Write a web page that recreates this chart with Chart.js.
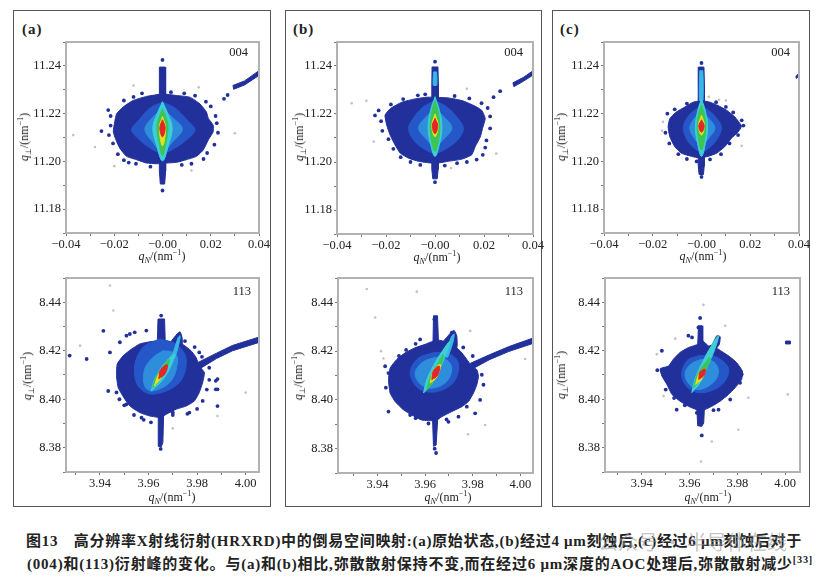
<!DOCTYPE html>
<html><head><meta charset="utf-8">
<script src="https://cdn.jsdelivr.net/npm/chart.js@4.4.1/dist/chart.umd.min.js"></script>
<style>
html,body{margin:0;padding:0;background:#fff;}
body{width:828px;height:578px;position:relative;overflow:hidden;font-family:"Liberation Serif",serif;}
.box{position:absolute;border:1px solid #555;box-sizing:border-box;}
.plab{position:absolute;font-weight:bold;font-size:15px;font-family:"Liberation Serif",serif;letter-spacing:1px;color:#222;line-height:16px;}
.refl{position:absolute;font-size:12.5px;font-family:"Liberation Serif",serif;color:#222;line-height:14px;transform:translateX(-100%);}
.ytit,.xtit{position:absolute;font-size:12px;font-family:"Liberation Serif",serif;color:#222;white-space:nowrap;line-height:14px;}
.ytit{transform:translate(-50%,-50%) rotate(-90deg);}
.xtit{transform:translate(-50%,-50%);}
sub,sup{font-size:68%;line-height:0;}
canvas{position:absolute;}
.cap{position:absolute;font-family:"Liberation Serif","Noto Sans CJK SC",sans-serif;font-weight:700;font-size:15px;color:#222;white-space:nowrap;line-height:20px;}
.wm{position:absolute;left:598px;top:530px;font-family:"Noto Sans CJK SC",sans-serif;font-size:20px;color:rgba(150,150,150,0.55);white-space:nowrap;line-height:24px;}
</style>
</head><body>
<script>
// ---------------- tick values and labels ----------------
const xTicks004 = [-0.04,-0.03,-0.02,-0.01,0,0.01,0.02,0.03,0.04];
const xLabels004 = ['−0.04','','−0.02','','−0.00','','0.02','','0.04'];
const yTicks004 = [11.17,11.18,11.19,11.20,11.21,11.22,11.23,11.24,11.25];
const yLabels004 = ['','11.18','','11.20','','11.22','','11.24',''];
const xTicks113 = [3.93,3.94,3.95,3.96,3.97,3.98,3.99,4.00];
const xLabels113 = ['','3.94','','3.96','','3.98','','4.00'];
const yTicks113 = [8.37,8.38,8.39,8.40,8.41,8.42,8.43,8.44,8.45];
const yLabels113 = ['','8.38','','8.40','','8.42','','8.44',''];

const xRange004 = [-0.04, 0.04];
const yRange004 = [11.17, 11.25];
const xRange113a = [3.926, 4.0055];
const xRange113b = [3.9234, 4.0053];
const xRange113c = [3.9246, 4.0062];
const yRange113 = [8.37, 8.45];

// ---------------- (a) 004 ----------------
const a004Body = [[0,11.2283],[0.0058,11.2276],[0.0113,11.2269],[0.0155,11.2241],[0.0182,11.2207],[0.019,11.218],[0.021,11.2152],[0.021,11.2124],[0.019,11.209],[0.0169,11.2048],[0.0141,11.2021],[0.0099,11.2007],[0.0058,11.1996],[0.0017,11.1993],[-0.0025,11.199],[-0.0066,11.1993],[-0.0108,11.2007],[-0.0149,11.2021],[-0.0177,11.2055],[-0.0193,11.209],[-0.0204,11.2124],[-0.0198,11.2166],[-0.019,11.22],[-0.0163,11.2228],[-0.0122,11.2255],[-0.0066,11.2272],[0,11.2283]];
const a004Streak = [[-0.0012,11.2395],[0.0011,11.2395],[0.0013,11.232],[0.0013,11.196],[0.0009,11.1905],[-0.0009,11.1905],[-0.0013,11.196],[-0.0014,11.232],[-0.0012,11.2395]];
const a004Diag = [[0.0292,11.2318],[0.034,11.2337],[0.040,11.2380],[0.040,11.2360],[0.034,11.2320],[0.0295,11.2302],[0.0292,11.2318]];
const a004L2 = [[0,11.2248],[0.005,11.2225],[0.0105,11.2170],[0.0135,11.2132],[0.0105,11.2095],[0.005,11.2055],[0,11.2035],[-0.005,11.2055],[-0.0100,11.2095],[-0.0128,11.2132],[-0.0100,11.2170],[-0.005,11.2225],[0,11.2248]];
const a004L3 = [[0,11.2218],[0.004,11.2185],[0.0082,11.2135],[0.004,11.2080],[0,11.2040],[-0.004,11.2080],[-0.0073,11.2135],[-0.004,11.2185],[0,11.2218]];
const a004L4 = [[0,11.2250],[0.0022,11.2200],[0.0040,11.2140],[0.0025,11.2070],[0,11.2002],[-0.0025,11.2070],[-0.0040,11.2140],[-0.0022,11.2200],[0,11.2250]];
const a004L5 = [[0,11.2220],[0.0016,11.2180],[0.0023,11.2140],[0.0015,11.2080],[0,11.2025],[-0.0015,11.2080],[-0.0023,11.2140],[-0.0016,11.2180],[0,11.2220]];
const a004L6 = [[0,11.2188],[0.0013,11.2140],[0,11.2065],[-0.0013,11.2140],[0,11.2188]];
const a004L7 = [[0,11.2174],[0.0011,11.2140],[0,11.2103],[-0.0011,11.2140],[0,11.2174]];
const a004Dots = [[-0.0253,11.2127],[-0.0225,11.2215],[-0.0215,11.2190],[-0.0160,11.2255],[-0.0120,11.2270],[-0.0085,11.2285],[0.0035,11.2290],[0.0090,11.2285],[0.0135,11.2275],[0.0180,11.2250],[0.0200,11.2230],[0.0225,11.2160],[0.0230,11.2120],[0.0215,11.2070],[0.0185,11.2035],[0.0170,11.2010],[0.0080,11.1985],[-0.0050,11.1978],[-0.0110,11.1990],[-0.0160,11.2005],[-0.0185,11.2030],[-0.0205,11.2075],[-0.0222,11.2110],[0,11.1878],[0,11.2425],[0.0255,11.2262],[0.0270,11.2278],[-0.0215,11.2150],[0.0220,11.2190],[-0.0140,11.1995],[0.0120,11.1990]];
const a004Gray = [[-0.0370,11.2110],[0.0300,11.2118],[-0.0120,11.2318],[0.0120,11.1962],[-0.0200,11.1980],[-0.0280,11.2060],[0.0150,11.2310]];

// ---------------- (b) 004 ----------------
const b004Body = [[0,11.227],[0.0055,11.2267],[0.011,11.2256],[0.0157,11.2236],[0.0191,11.2215],[0.0205,11.2181],[0.0194,11.214],[0.0185,11.2105],[0.0164,11.2064],[0.015,11.203],[0.011,11.2012],[0.0055,11.2003],[0.0014,11.1996],[-0.002,11.1996],[-0.0067,11.2003],[-0.0108,11.2016],[-0.0142,11.2037],[-0.0163,11.2071],[-0.0183,11.2112],[-0.0197,11.2153],[-0.0204,11.2195],[-0.0183,11.2222],[-0.0136,11.2249],[-0.0081,11.2263],[-0.0033,11.227],[0,11.227]];
const b004Streak = [[-0.0012,11.2396],[0.0012,11.2396],[0.0014,11.232],[0.0013,11.197],[0.0009,11.1930],[-0.0009,11.1930],[-0.0013,11.197],[-0.0013,11.232],[-0.0012,11.2396]];
const b004Core = [[-0.0006,11.2375],[0.0006,11.2375],[0.0007,11.2320],[-0.0007,11.2320],[-0.0006,11.2375]];
const b004Diag = [[0.0318,11.2330],[0.0360,11.2352],[0.0400,11.2380],[0.0400,11.2362],[0.0360,11.2336],[0.0322,11.2314],[0.0318,11.2330]];
const b004L2 = [[0,11.2256],[0.005,11.2228],[0.0095,11.2180],[0.0116,11.2140],[0.0095,11.2095],[0.005,11.2058],[0,11.2037],[-0.005,11.2058],[-0.009,11.2095],[-0.0108,11.2140],[-0.009,11.2180],[-0.005,11.2228],[0,11.2256]];
const b004L3 = [[0,11.2224],[0.0035,11.2190],[0.0069,11.2142],[0.0035,11.2095],[0,11.2064],[-0.0035,11.2095],[-0.0067,11.2142],[-0.0035,11.2190],[0,11.2224]];
const b004L4 = [[0,11.2272],[0.0018,11.2215],[0.0028,11.2145],[0.0018,11.2075],[0,11.2023],[-0.0018,11.2075],[-0.0028,11.2145],[-0.0018,11.2215],[0,11.2272]];
const b004L5 = [[0,11.2256],[0.0014,11.2205],[0.0020,11.2145],[0.0014,11.2085],[0,11.2044],[-0.0014,11.2085],[-0.0020,11.2145],[-0.0014,11.2205],[0,11.2256]];
const b004L6 = [[0,11.2200],[0.0013,11.2150],[0,11.2105],[-0.0013,11.2150],[0,11.2200]];
const b004L7 = [[0,11.2182],[0.0011,11.2150],[0,11.2118],[-0.0011,11.2150],[0,11.2182]];
const b004Dots = [[-0.0245,11.2194],[-0.0230,11.2215],[-0.0220,11.2170],[-0.0190,11.2095],[-0.0170,11.2055],[-0.0140,11.2020],[-0.0100,11.2000],[-0.0060,11.1988],[0.0040,11.1985],[0.0090,11.1995],[0.0130,11.2000],[0.0170,11.2010],[0.0195,11.2030],[0.0210,11.2090],[0.0225,11.2140],[0.0225,11.2190],[0.0215,11.2225],[0.0190,11.2245],[0.0140,11.2265],[0.0080,11.2275],[-0.0070,11.2278],[-0.0130,11.2262],[-0.0180,11.2240],[0,11.2418],[0,11.1916],[0.0239,11.2270],[0.0266,11.2295],[-0.0215,11.2130],[0.0205,11.2060],[-0.0040,11.2282]];
const b004Gray = [[-0.0280,11.2255],[-0.0340,11.2245],[0.0130,11.2305],[0.0065,11.1975],[0.0250,11.2035],[-0.0250,11.2085]];

// ---------------- (c) 004 ----------------
const c004Body = [[0,11.2255],[0.0034,11.2248],[0.0068,11.2234],[0.0103,11.2214],[0.0137,11.2186],[0.0164,11.2148],[0.0151,11.2124],[0.0123,11.2097],[0.0096,11.2062],[0.0062,11.2034],[0.0027,11.2021],[-0.0007,11.2014],[-0.0041,11.2021],[-0.0082,11.2034],[-0.011,11.2062],[-0.013,11.2103],[-0.0137,11.2145],[-0.013,11.2179],[-0.0103,11.2207],[-0.0068,11.2228],[-0.0034,11.2248],[0,11.2255]];
const c004Streak = [[-0.0013,11.2395],[0.0010,11.2395],[0.0012,11.232],[0.0011,11.198],[0.0008,11.1945],[-0.0010,11.1945],[-0.0013,11.198],[-0.0014,11.232],[-0.0013,11.2395]];
const c004Core = [[-0.0007,11.2380],[0.0005,11.2380],[0.0006,11.2255],[-0.0008,11.2255],[-0.0007,11.2380]];
const c004Diag = [[0.0388,11.2358],[0.0400,11.2368],[0.0400,11.2356],[0.0390,11.2348],[0.0388,11.2358]];
const c004L2 = [[0,11.2232],[0.004,11.2205],[0.0070,11.2170],[0.0082,11.2140],[0.0065,11.2095],[0.0035,11.2060],[0,11.2041],[-0.0035,11.2060],[-0.0062,11.2095],[-0.0075,11.2140],[-0.0065,11.2172],[-0.004,11.2205],[0,11.2232]];
const c004L3 = [[0,11.2208],[0.003,11.2180],[0.0055,11.2140],[0.003,11.2098],[0,11.2069],[-0.003,11.2098],[-0.0048,11.2140],[-0.003,11.2180],[0,11.2208]];
const c004L4 = [[0,11.2262],[0.0016,11.2210],[0.0025,11.2145],[0.0016,11.2075],[0,11.2021],[-0.0016,11.2075],[-0.0025,11.2145],[-0.0016,11.2210],[0,11.2262]];
const c004L5 = [[0,11.2236],[0.0013,11.2195],[0.0018,11.2145],[0.0012,11.2090],[0,11.2048],[-0.0012,11.2090],[-0.0018,11.2145],[-0.0013,11.2195],[0,11.2236]];
const c004L6 = [[0,11.2194],[0.0012,11.2150],[0,11.2110],[-0.0012,11.2150],[0,11.2194]];
const c004L7 = [[0,11.2174],[0.0011,11.2148],[0,11.2122],[-0.0011,11.2148],[0,11.2174]];
const c004Dots = [[-0.0140,11.2200],[-0.0148,11.2120],[-0.0132,11.2075],[-0.0095,11.2030],[-0.0060,11.2010],[-0.0020,11.2000],[0.0035,11.2008],[0.0080,11.2030],[0.0115,11.2075],[0.0150,11.2110],[0.0172,11.2150],[0.0165,11.2172],[0.0130,11.2205],[0.0100,11.2228],[0.0060,11.2248],[-0.0060,11.2242],[-0.0110,11.2218],[0,11.2412],[0,11.1935]];
const c004Gray = [[-0.0158,11.2166],[-0.0162,11.2128],[0.0100,11.2255],[0.0072,11.2258],[0.0165,11.2065],[0.0030,11.2270]];

// ---------------- (a) 113 ----------------
const a113Body = [[3.9635,8.4241],[3.9669,8.4241],[3.9700,8.4235],[3.9738,8.4228],[3.9775,8.4200],[3.9796,8.4172],[3.9809,8.4138],[3.9830,8.4110],[3.9823,8.4069],[3.9809,8.4028],[3.9789,8.3993],[3.9755,8.3972],[3.9714,8.3959],[3.9673,8.3938],[3.9650,8.3925],[3.9605,8.3931],[3.9564,8.3945],[3.9523,8.3972],[3.9498,8.4007],[3.9475,8.4048],[3.9468,8.4097],[3.9471,8.4145],[3.9495,8.4179],[3.9530,8.4207],[3.9564,8.4228],[3.9605,8.4237],[3.9635,8.4241]];
const a113SpikeUp = [[3.9639,8.4331],[3.9666,8.4331],[3.9669,8.4230],[3.9636,8.4230],[3.9639,8.4331]];
const a113SpikeDown = [[3.9640,8.3930],[3.9662,8.3930],[3.9659,8.3821],[3.9652,8.3803],[3.9639,8.3807],[3.9640,8.3930]];
const a113Lobe = [[3.9690,8.4235],[3.9718,8.4270],[3.9730,8.4278],[3.9738,8.4255],[3.9738,8.4225],[3.9700,8.4215],[3.9690,8.4235]];
const a113Diag = [[3.9800,8.4150],[3.9880,8.4190],[3.9946,8.4222],[4.0060,8.4258],[4.0060,8.4236],[3.9946,8.4200],[3.9880,8.4168],[3.9810,8.4125],[3.9800,8.4150]];
const a113L2 = [[3.9645,8.4248],[3.9714,8.4227],[3.9755,8.4165],[3.9727,8.4069],[3.9618,8.4021],[3.9557,8.4055],[3.9543,8.4138],[3.9577,8.4214],[3.9645,8.4248]];
const a113L3 = [[3.9659,8.4200],[3.9700,8.4193],[3.9720,8.4165],[3.9693,8.4076],[3.9618,8.4034],[3.9584,8.4055],[3.9584,8.4124],[3.9618,8.4172],[3.9659,8.4200]];
const a113Core = [[3.9695,8.4170],[3.9722,8.4255],[3.9730,8.4262],[3.9728,8.4240],[3.9708,8.4170],[3.9695,8.4170]];
const a113L4 = [[3.9611,8.4034],[3.9645,8.4065],[3.9673,8.4101],[3.9694,8.4141],[3.9707,8.4186],[3.9672,8.4155],[3.9645,8.4119],[3.9624,8.4079],[3.9611,8.4034]];
const a113L5 = [[3.9618,8.4048],[3.9641,8.4072],[3.9662,8.4102],[3.9679,8.4135],[3.9686,8.4165],[3.9666,8.4143],[3.9643,8.4112],[3.9626,8.4080],[3.9618,8.4048]];
const a113L6 = [[3.9624,8.4055],[3.9652,8.4090],[3.9668,8.4135],[3.9640,8.4100],[3.9624,8.4055]];
const a113L7 = [[3.9642,8.4085],[3.9668,8.4105],[3.9677,8.4142],[3.9650,8.4122],[3.9642,8.4085]];
const a113Dots = [[3.9414,8.4282],[3.9345,8.4166],[3.9275,8.4180],[3.9509,8.4262],[3.9543,8.4276],[3.9591,8.4283],[3.9468,8.4028],[3.9480,8.4000],[3.9500,8.3975],[3.9540,8.3935],[3.9580,8.3915],[3.9610,8.3905],[3.9700,8.3935],[3.9760,8.3940],[3.9800,8.3960],[3.9840,8.4040],[3.9850,8.4080],[3.9850,8.4130],[3.9820,8.4175],[3.9790,8.4215],[3.9750,8.4240],[3.9652,8.4345],[3.9650,8.3795],[3.9877,8.4076],[3.9877,8.4041],[3.9884,8.3972],[3.9441,8.4193],[3.9434,8.4034],[3.9509,8.3979],[3.9571,8.3924],[3.9809,8.4193],[3.9884,8.4083],[3.9884,8.4041],[3.9823,8.3993],[3.9768,8.3945],[3.9700,8.3945],[3.9523,8.4269],[3.9482,8.4235]];
const a113Gray = [[3.9441,8.4469],[3.9455,8.4366],[3.9318,8.4221],[4.0000,8.4028],[3.9884,8.3931],[3.9700,8.3880]];

// ---------------- (b) 113 ----------------
const b113Body = [[3.9633,8.4241],[3.9656,8.4245],[3.9677,8.4241],[3.9705,8.4228],[3.9733,8.4214],[3.9754,8.4193],[3.9775,8.4166],[3.9796,8.4138],[3.9817,8.4124],[3.9824,8.4097],[3.9817,8.4062],[3.9803,8.4028],[3.9782,8.3993],[3.9754,8.3972],[3.9712,8.3952],[3.9670,8.3931],[3.9645,8.3915],[3.9586,8.3917],[3.9544,8.3938],[3.9509,8.3959],[3.9474,8.3993],[3.9453,8.4028],[3.9446,8.4083],[3.9453,8.4131],[3.9481,8.4166],[3.9516,8.4193],[3.9558,8.4214],[3.9600,8.4228],[3.9633,8.4241]];
const b113SpikeUp = [[3.9635,8.4345],[3.9652,8.4345],[3.9656,8.4235],[3.9633,8.4235],[3.9635,8.4345]];
const b113SpikeDown = [[3.9631,8.3925],[3.9653,8.3925],[3.9646,8.3814],[3.9635,8.3810],[3.9631,8.3925]];
const b113Lobe = [[3.9677,8.4241],[3.9712,8.4280],[3.9722,8.4285],[3.9733,8.4262],[3.9733,8.4214],[3.9700,8.4215],[3.9677,8.4241]];
const b113Diag = [[3.9790,8.4150],[3.9870,8.4185],[3.9950,8.4218],[4.0060,8.4256],[4.0060,8.4234],[3.9950,8.4198],[3.9870,8.4165],[3.9800,8.4128],[3.9790,8.4150]];
const b113L2 = [[3.9640,8.4195],[3.9700,8.4190],[3.9740,8.4150],[3.9722,8.4075],[3.9650,8.4034],[3.9575,8.4045],[3.9537,8.4110],[3.9570,8.4170],[3.9640,8.4195]];
const b113L3 = [[3.9645,8.4175],[3.9690,8.4165],[3.9712,8.4130],[3.9690,8.4075],[3.9630,8.4048],[3.9580,8.4065],[3.9558,8.4110],[3.9590,8.4155],[3.9645,8.4175]];
const b113Core = [[3.9680,8.4180],[3.9712,8.4262],[3.9722,8.4270],[3.9718,8.4240],[3.9694,8.4175],[3.9680,8.4180]];
const b113L4 = [[3.9593,8.4028],[3.9630,8.4068],[3.9662,8.4128],[3.9688,8.4190],[3.9705,8.4241],[3.9672,8.4200],[3.9636,8.4142],[3.9608,8.4085],[3.9593,8.4028]];
const b113L5 = [[3.9607,8.4041],[3.9638,8.4080],[3.9660,8.4125],[3.9677,8.4186],[3.9648,8.4140],[3.9622,8.4095],[3.9607,8.4041]];
const b113L6 = [[3.9621,8.4069],[3.9650,8.4095],[3.9664,8.4146],[3.9635,8.4120],[3.9621,8.4069]];
const b113L7 = [[3.9628,8.4083],[3.9652,8.4100],[3.9660,8.4138],[3.9636,8.4122],[3.9628,8.4083]];
const b113Dots = [[3.9579,8.4248],[3.9432,8.4138],[3.9446,8.4110],[3.9446,8.3952],[3.9485,8.3993],[3.9537,8.3938],[3.9560,8.3925],[3.9614,8.3903],[3.9698,8.3910],[3.9740,8.3931],[3.9775,8.3972],[3.9810,8.3945],[3.9831,8.4000],[3.9845,8.4062],[3.9838,8.4103],[3.9712,8.4276],[3.9639,8.4331],[3.9646,8.3782],[3.9640,8.3800],[3.9560,8.4230],[3.9520,8.4205],[3.9490,8.4180],[3.9435,8.4050],[3.9800,8.4180],[3.9760,8.4215],[3.9690,8.3920]];
const b113Gray = [[3.9355,8.4455],[3.9390,8.4338],[3.9565,8.4444],[4.0020,8.4168],[3.9852,8.3897],[3.9780,8.3859],[3.9789,8.4283],[3.9415,8.4200],[3.9425,8.4170]];

// ---------------- (c) 113 ----------------
const c113Body = [[3.9637,8.4227],[3.9654,8.4241],[3.9679,8.4220],[3.9700,8.4225],[3.9721,8.4206],[3.9763,8.4179],[3.9797,8.4151],[3.9821,8.4116],[3.9818,8.4082],[3.9790,8.4047],[3.9763,8.4020],[3.9728,8.3992],[3.9693,8.3971],[3.9662,8.3957],[3.9630,8.3957],[3.9595,8.3971],[3.9560,8.3992],[3.9526,8.4020],[3.9505,8.4061],[3.9484,8.4096],[3.9477,8.4126],[3.9512,8.4137],[3.9532,8.4165],[3.9560,8.4193],[3.9595,8.4213],[3.9637,8.4227]];
const c113SpikeUp = [[3.9637,8.4303],[3.9652,8.4303],[3.9655,8.4225],[3.9634,8.4225],[3.9637,8.4303]];
const c113SpikeDown = [[3.9630,8.3965],[3.9662,8.3965],[3.9659,8.3902],[3.9651,8.3888],[3.9634,8.3891],[3.9630,8.3965]];
const c113Lobe = [[3.9690,8.4215],[3.9714,8.4262],[3.9728,8.4258],[3.9724,8.4225],[3.9705,8.4205],[3.9690,8.4215]];
const c113Dash = [[4.0002,8.4228],[4.0022,8.4228],[4.0022,8.4240],[4.0002,8.4240],[4.0002,8.4228]];
const c113L2 = [[3.9640,8.4180],[3.9710,8.4175],[3.9763,8.4125],[3.9735,8.4060],[3.9655,8.4027],[3.9595,8.4045],[3.9567,8.4100],[3.9590,8.4160],[3.9640,8.4180]];
const c113L3 = [[3.9650,8.4165],[3.9700,8.4155],[3.9721,8.4115],[3.9700,8.4070],[3.9640,8.4040],[3.9600,8.4060],[3.9581,8.4105],[3.9605,8.4145],[3.9650,8.4165]];
const c113L4 = [[3.9609,8.4027],[3.9645,8.4070],[3.9677,8.4140],[3.9705,8.4205],[3.9721,8.4262],[3.9688,8.4215],[3.9655,8.4155],[3.9625,8.4090],[3.9609,8.4027]];
const c113L5 = [[3.9616,8.4047],[3.9648,8.4085],[3.9672,8.4130],[3.9686,8.4172],[3.9658,8.4140],[3.9632,8.4100],[3.9616,8.4047]];
const c113L6 = [[3.9625,8.4061],[3.9652,8.4085],[3.9666,8.4124],[3.9640,8.4105],[3.9625,8.4061]];
const c113L7 = [[3.9638,8.4082],[3.9660,8.4098],[3.9666,8.4124],[3.9644,8.4112],[3.9638,8.4082]];
const c113Dots = [[3.9637,8.4296],[3.9595,8.4262],[3.9484,8.4200],[3.9546,8.3957],[3.9580,8.3975],[3.9630,8.3944],[3.9644,8.3916],[3.9651,8.3851],[3.9721,8.3957],[3.9770,8.3999],[3.9811,8.4068],[3.9818,8.4103],[3.9777,8.4137],[3.9749,8.4179],[3.9644,8.4335],[3.9465,8.4120],[3.9610,8.4255],[3.9500,8.4040],[3.9535,8.4005],[3.9700,8.3955]];
const c113Gray = [[3.9463,8.4186],[3.9491,8.4013],[3.9658,8.4389],[3.9749,8.4303],[3.9846,8.4006],[3.9804,8.3874],[3.9693,8.3826],[3.9648,8.3743],[4.0011,8.4020],[3.9540,8.4250]];

// ---------------- styles ----------------
const STY = {
  gray:  {type:'dots',  color:'#c2c2c2', r:1.3},
  dots:  {type:'dots',  color:'#22309c', r:1.9},
  body:  {type:'shape', color:'#22309c', t:0.15},
  streak:{type:'shape', color:'#22309c', t:0},
  L2:    {type:'shape', color:'#2557c8', t:0.35},
  L3:    {type:'shape', color:'#2f8edc', t:0.35},
  core:  {type:'shape', color:'#38b6e6', t:0.2},
  L4:    {type:'shape', color:'#3ccfd8', t:0.4},
  L5:    {type:'shape', color:'#3cc454', t:0.4},
  L6:    {type:'shape', color:'#e4e022', t:0.4},
  L7:    {type:'shape', color:'#e2262a', t:0.4}
};

const TITLE_Y = '<i>q</i><sub>⊥</sub>/(nm<sup>−1</sup>)';
const TITLE_X = '<i>q</i><sub><i>N</i></sub>/(nm<sup>−1</sup>)';

const plots = [
 {rect:[66,42,193,191], xr:xRange004, yr:yRange004, xt:xTicks004, xl:xLabels004, yt:yTicks004, yl:yLabels004,
  ref:['004',248,52], yT:[24,137], xT:[162,256],
  layers:[[a004Gray,'gray'],[a004Diag,'streak'],[a004Body,'body'],[a004Streak,'streak'],[a004Dots,'dots'],[a004L2,'L2'],[a004L3,'L3'],[a004L4,'L4'],[a004L5,'L5'],[a004L6,'L6'],[a004L7,'L7']]},
 {rect:[66,278,193,194], xr:xRange113a, yr:yRange113, xt:xTicks113, xl:xLabels113, yt:yTicks113, yl:yLabels113,
  ref:['113',251,291], yT:[27,376], xT:[172,497],
  layers:[[a113Gray,'gray'],[a113Diag,'streak'],[a113Body,'body'],[a113Lobe,'body'],[a113SpikeUp,'streak'],[a113SpikeDown,'streak'],[a113Dots,'dots'],[a113L2,'L2'],[a113L3,'L3'],[a113Core,'core'],[a113L4,'L4'],[a113L5,'L5'],[a113L6,'L6'],[a113L7,'L7']]},
 {rect:[337,42,196,192], xr:xRange004, yr:yRange004, xt:xTicks004, xl:xLabels004, yt:yTicks004, yl:yLabels004,
  ref:['004',523,52], yT:[299,137], xT:[437,257],
  layers:[[b004Gray,'gray'],[b004Diag,'streak'],[b004Body,'body'],[b004Streak,'streak'],[b004Dots,'dots'],[b004L2,'L2'],[b004L3,'L3'],[b004Core,'core'],[b004L4,'L4'],[b004L5,'L5'],[b004L6,'L6'],[b004L7,'L7']]},
 {rect:[338,278,195,195], xr:xRange113b, yr:yRange113, xt:xTicks113, xl:xLabels113, yt:yTicks113, yl:yLabels113,
  ref:['113',523,291], yT:[298,376], xT:[448,497],
  layers:[[b113Gray,'gray'],[b113Diag,'streak'],[b113Body,'body'],[b113Lobe,'body'],[b113SpikeUp,'streak'],[b113SpikeDown,'streak'],[b113Dots,'dots'],[b113L2,'L2'],[b113L3,'L3'],[b113Core,'core'],[b113L4,'L4'],[b113L5,'L5'],[b113L6,'L6'],[b113L7,'L7']]},
 {rect:[604,42,195,191], xr:xRange004, yr:yRange004, xt:xTicks004, xl:xLabels004, yt:yTicks004, yl:yLabels004,
  ref:['004',790,52], yT:[561,137], xT:[703,256],
  layers:[[c004Gray,'gray'],[c004Diag,'streak'],[c004Body,'body'],[c004Streak,'streak'],[c004Dots,'dots'],[c004L2,'L2'],[c004L3,'L3'],[c004Core,'core'],[c004L4,'L4'],[c004L5,'L5'],[c004L6,'L6'],[c004L7,'L7']]},
 {rect:[605,278,195,194], xr:xRange113c, yr:yRange113, xt:xTicks113, xl:xLabels113, yt:yTicks113, yl:yLabels113,
  ref:['113',790,291], yT:[561,375], xT:[708,497],
  layers:[[c113Gray,'gray'],[c113Dash,'streak'],[c113Body,'body'],[c113Lobe,'body'],[c113SpikeUp,'streak'],[c113SpikeDown,'streak'],[c113Dots,'dots'],[c113L2,'L2'],[c113L3,'L3'],[c113L4,'L4'],[c113L5,'L5'],[c113L6,'L6'],[c113L7,'L7']]}
];

const panels = [['(a)',13,258,22],['(b)',285,257,293],['(c)',552,258,560]];

function el(tag, cls, html, css){const e=document.createElement(tag); if(cls) e.className=cls; if(html!=null) e.innerHTML=html; Object.assign(e.style, css||{}); document.body.appendChild(e); return e;}

panels.forEach(p=>{
  el('div','box',null,{left:p[1]+'px',top:'10px',width:p[2]+'px',height:'497px'});
  el('div','plab',p[0],{left:p[3]+'px',top:'21px'});
});

const YW=52, PT=10, PR=16, XH=20;
const framePlugin = {id:'frame', afterDatasetsDraw(chart){const {ctx, chartArea:a}=chart; ctx.save(); ctx.strokeStyle='#b2b2b2'; ctx.lineWidth=2; ctx.strokeRect(a.left, a.top, a.right-a.left, a.bottom-a.top); ctx.restore();}};
const tickFont = {family:'Liberation Serif', size:12.5};

plots.forEach(p=>{
  const [l,t,w,h]=p.rect;
  const W=YW+w+PR, H=PT+h+XH;
  const cv=document.createElement('canvas');
  cv.width=W; cv.height=H;
  Object.assign(cv.style,{left:(l-YW)+'px',top:(t-PT)+'px',width:W+'px',height:H+'px'});
  document.body.appendChild(cv);
  const datasets=p.layers.map((ly,i)=>{
    const s=STY[ly[1]];
    const data=ly[0].map(q=>({x:q[0],y:q[1]}));
    if(s.type==='dots') return {data, showLine:false, pointRadius:s.r, pointBackgroundColor:s.color, pointBorderWidth:0, backgroundColor:s.color, borderWidth:0, order:100-i};
    return {data, showLine:true, fill:'shape', tension:s.t, backgroundColor:s.color, borderColor:s.color, borderWidth:1, pointRadius:0, order:100-i};
  });
  new Chart(cv,{type:'scatter', data:{datasets}, plugins:[framePlugin], options:{
    responsive:false, animation:false, events:[],
    layout:{padding:{top:PT,right:PR,left:0,bottom:0}},
    plugins:{legend:{display:false}, tooltip:{enabled:false}},
    scales:{
      x:{type:'linear', min:p.xr[0], max:p.xr[1],
         afterBuildTicks:s=>{s.ticks=p.xt.map(v=>({value:v}));},
         afterFit:s=>{s.height=XH;},
         ticks:{autoSkip:false, maxRotation:0, minRotation:0, padding:1, font:tickFont, color:'#222', callback:(v,i)=>p.xl[i]},
         grid:{drawOnChartArea:false, drawTicks:true, tickLength:3, color:'#777'}, border:{display:false}},
      y:{type:'linear', min:p.yr[0], max:p.yr[1],
         afterBuildTicks:s=>{s.ticks=p.yt.map(v=>({value:v}));},
         afterFit:s=>{s.width=YW;},
         ticks:{autoSkip:false, padding:2, font:tickFont, color:'#222', callback:(v,i)=>p.yl[i]},
         grid:{drawOnChartArea:false, drawTicks:true, tickLength:3, color:'#777'}, border:{display:false}}
    }}});
  el('div','refl',p.ref[0],{left:p.ref[1]+'px',top:(p.ref[2]-7)+'px'});
  el('div','ytit',TITLE_Y,{left:p.yT[0]+'px',top:p.yT[1]+'px'});
  el('div','xtit',TITLE_X,{left:p.xT[0]+'px',top:p.xT[1]+'px'});
});

// ---------------- caption ----------------
const captionLines = [
  {html:'图13　高分辨率X射线衍射(HRXRD)中的倒易空间映射:(a)原始状态,(b)经过4 μm刻蚀后,(c)经过6 μm刻蚀后对于', left:26, top:531, width:776},
  {html:'(004)和(113)衍射峰的变化。与(a)和(b)相比,弥散散射保持不变,而在经过6 μm深度的AOC处理后,弥散散射减少<sup>[33]</sup>', left:27, top:554, width:786}
];
const caps = captionLines.map(c=>el('div','cap',c.html,{left:c.left+'px',top:c.top+'px'}));
el('div','wm','公众号 · 半导体在线',{});
function fitCaps(){
  caps.forEach((e,i)=>{
    e.style.letterSpacing='0px';
    const w=e.getBoundingClientRect().width;
    const n=e.textContent.length;
    e.style.letterSpacing=((captionLines[i].width-w)/n).toFixed(3)+'px';
  });
}
fitCaps();
if(document.fonts && document.fonts.ready) document.fonts.ready.then(fitCaps);
</script>
</body></html>
